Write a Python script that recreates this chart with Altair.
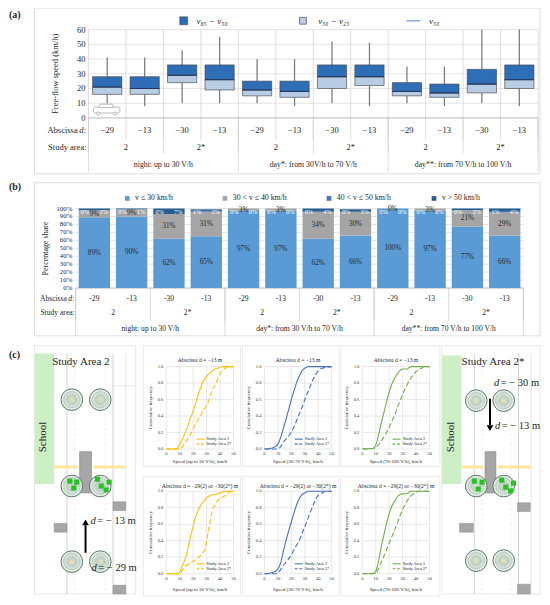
import altair as alt
import pandas as pd

S = 534 / 544.0
def X(r): return round((r - 3) * S, 2)
def Y(r): return round((r - 3) * S, 2)

FONT = "Liberation Serif"
INK = "#262626"
ONE = pd.DataFrame({"k": [0]})

# ---------------- data: panel (a) ----------------
abscissa_a = ["−29", "−13", "−30", "−13", "−29", "−13", "−30", "−13", "−29", "−13", "−30", "−13"]
abscissa_b = ["-29", "-13", "-30", "-13", "-29", "-13", "-30", "-13", "-29", "-13", "-30", "-13"]
study_area = ["2", "2*", "2", "2*", "2", "2*"]
traffic_a = ["night: up to 30 V/h", "day*: from 30V/h to 70 V/h", "day**: from 70 V/h to 100 V/h"]
traffic_b = ["night: up to 30 V/h", "day*: from 30 V/h to 70 V/h", "day**: from 70 V/h to 100 V/h"]
speed_ticks = [0, 10, 20, 30, 40, 50, 60]
v_min = [10, 8, 10, 10, 10, 8, 10, 8, 10, 8, 10, 8]
v25 = [16, 16, 24, 19, 15, 14, 20, 22, 15, 14, 17, 20]
v50 = [21, 20, 29, 26, 19, 18, 28, 28, 18, 17, 23, 26]
v85 = [28, 28, 36, 36, 25, 25, 36, 36, 24, 23, 33, 36]
v_max = [41, 41, 46, 55, 40, 40, 52, 51, 35, 35, 60, 60]

# ---------------- data: panel (b) ----------------
share_cats = ["v ≤ 30 km/h", "30 < v ≤ 40 km/h", "40 < v ≤ 50 km/h", "v > 50 km/h"]
share_colors = ["#5B9BD5", "#A5A5A5", "#4472C4", "#255E91"]
share_le30 = [89, 90, 62, 65, 97, 97, 62, 66, 100, 97, 77, 66]
share_30_40 = [9, 9, 31, 31, 3, 3, 34, 30, 0, 3, 21, 29]
share_40_50 = [0, 0, 0, 1, 0, 0, 0, 0, 0, 0, 0, 1]
share_gt50 = [2, 1, 7, 2, 0, 0, 4, 3, 0, 0, 2, 4]
share_ticks = [0, 10, 20, 30, 40, 50, 60, 70, 80, 90, 100]

# ---------------- data: panel (c) cumulative curves ----------------
cdf_xticks = [0, 10, 20, 30, 40, 50]
cdf_yticks = [0, 0.2, 0.4, 0.6, 0.8, 1.0]
cdf_ylabels = ["0.0", "0.2", "0.4", "0.6", "0.8", "1.0"]

top_y_s_x = [0, 7, 9, 11, 13, 15, 17, 19, 21, 23, 25, 27, 29, 31, 33, 35, 38, 42, 50]
top_y_s_f = [0, 0, 0.03, 0.09, 0.16, 0.24, 0.33, 0.42, 0.51, 0.62, 0.72, 0.81, 0.86, 0.90, 0.93, 0.96, 0.98, 1.0, 1.0]
top_y_d_x = [0, 10, 12, 15, 18, 21, 24, 26, 28, 31, 33, 35, 37, 39, 41, 43, 46, 50]
top_y_d_f = [0, 0, 0.03, 0.10, 0.18, 0.28, 0.37, 0.42, 0.48, 0.56, 0.66, 0.74, 0.80, 0.88, 0.94, 0.97, 1.0, 1.0]

top_b_s_x = [0, 5, 8, 10, 12, 14, 16, 18, 20, 22, 24, 26, 28, 30, 33, 40, 50]
top_b_s_f = [0, 0.01, 0.03, 0.06, 0.14, 0.25, 0.36, 0.48, 0.60, 0.71, 0.81, 0.89, 0.95, 0.98, 1.0, 1.0, 1.0]
top_b_d_x = [0, 10, 12, 14, 16, 18, 20, 22, 24, 26, 28, 30, 32, 34, 36, 38, 40, 43, 46, 50]
top_b_d_f = [0, 0, 0.03, 0.08, 0.12, 0.16, 0.21, 0.27, 0.35, 0.43, 0.51, 0.60, 0.68, 0.76, 0.84, 0.90, 0.95, 0.98, 0.99, 1.0]

top_g_s_x = [0, 8, 10, 12, 14, 16, 18, 20, 22, 24, 26, 28, 30, 33, 35, 37, 40, 50]
top_g_s_f = [0, 0.01, 0.05, 0.17, 0.31, 0.44, 0.57, 0.69, 0.79, 0.86, 0.91, 0.95, 0.97, 0.97, 0.99, 1.0, 1.0, 1.0]
top_g_d_x = [0, 9, 12, 15, 18, 20, 22, 24, 26, 28, 30, 32, 34, 36, 38, 40, 42, 44, 46, 50]
top_g_d_f = [0, 0.01, 0.05, 0.12, 0.20, 0.27, 0.34, 0.41, 0.50, 0.58, 0.66, 0.74, 0.80, 0.86, 0.90, 0.94, 0.96, 0.98, 1.0, 1.0]

bot_y_s_x = [0, 9, 10, 12, 14, 16, 18, 20, 22, 24, 26, 28, 30, 33, 36, 40, 44, 50]
bot_y_s_f = [0, 0, 0.02, 0.10, 0.18, 0.30, 0.45, 0.58, 0.70, 0.78, 0.84, 0.88, 0.92, 0.95, 0.96, 0.98, 1.0, 1.0]
bot_y_d_x = [0, 10, 12, 15, 18, 20, 22, 25, 27, 29, 30, 32, 34, 36, 38, 40, 43, 45, 47, 50]
bot_y_d_f = [0, 0, 0.05, 0.10, 0.13, 0.15, 0.17, 0.21, 0.25, 0.30, 0.40, 0.58, 0.75, 0.83, 0.88, 0.91, 0.94, 0.96, 0.99, 1.0]

bot_b_s_x = [0, 5, 8, 10, 12, 14, 16, 18, 20, 22, 24, 26, 28, 30, 33, 40, 50]
bot_b_s_f = [0, 0.01, 0.03, 0.06, 0.13, 0.27, 0.40, 0.52, 0.63, 0.74, 0.84, 0.91, 0.96, 0.98, 1.0, 1.0, 1.0]
bot_b_d_x = [0, 9, 12, 14, 16, 18, 21, 24, 26, 28, 31, 33, 36, 38, 40, 43, 46, 50]
bot_b_d_f = [0, 0, 0.05, 0.10, 0.14, 0.18, 0.26, 0.35, 0.41, 0.49, 0.61, 0.70, 0.82, 0.90, 0.95, 0.98, 1.0, 1.0]

bot_g_s_x = [0, 9, 10, 12, 14, 16, 18, 20, 22, 24, 26, 28, 30, 32, 34, 36, 40, 50]
bot_g_s_f = [0, 0, 0.03, 0.15, 0.32, 0.47, 0.61, 0.73, 0.82, 0.88, 0.93, 0.96, 0.97, 0.97, 0.98, 1.0, 1.0, 1.0]
bot_g_d_x = [0, 10, 12, 14, 16, 18, 20, 22, 24, 26, 28, 30, 32, 34, 36, 38, 40, 43, 50]
bot_g_d_f = [0, 0.01, 0.06, 0.14, 0.21, 0.29, 0.37, 0.45, 0.53, 0.61, 0.70, 0.78, 0.84, 0.90, 0.94, 0.97, 0.99, 1.0, 1.0]

series_names = ["Study Area 2", "Study Area 2*"]

# ---------------- helpers (decoration, pixel placed) ----------------
def rect(x0, y0, x1, y1, **kw):
    return alt.Chart(ONE).mark_rect(**kw).encode(
        x=alt.value(X(x0)), x2=alt.value(X(x1)), y=alt.value(Y(y0)), y2=alt.value(Y(y1)))

def seg(x0, y0, x1, y1, color="#bfbfbf", width=0.8, **kw):
    return alt.Chart(ONE).mark_rule(color=color, strokeWidth=width, **kw).encode(
        x=alt.value(X(x0)), x2=alt.value(X(x1)), y=alt.value(Y(y0)), y2=alt.value(Y(y1)))

def txt(s, x, y, size=9, align="left", color=INK, **kw):
    return alt.Chart(ONE).mark_text(text=s, font=FONT, fontSize=size, align=align,
                                    baseline="middle", color=color, **kw).encode(
        x=alt.value(X(x)), y=alt.value(Y(y)))

def dot(x, y, kind="circle", **kw):
    if kind == "circle":
        m = alt.Chart(ONE).mark_circle(**kw)
    elif kind == "square":
        m = alt.Chart(ONE).mark_square(**kw)
    else:
        m = alt.Chart(ONE).mark_point(**kw)
    return m.encode(x=alt.value(X(x)), y=alt.value(Y(y)))

layers = []

# ======================= PANEL (a) =======================
n = len(v50)
idx = list(range(n))
bounds_all = [k - 0.5 for k in range(n + 1)]
bounds_area = [2 * k - 0.5 for k in range(n // 2 + 1)]
bounds_traffic = [4 * k - 0.5 for k in range(n // 4 + 1)]
area_pos = [2 * k + 0.5 for k in range(n // 2)]
traffic_pos = [4 * k + 1.5 for k in range(n // 4)]

layers.append(rect(30, 3, 545, 172, fill="white", stroke="#d4d4d4", strokeWidth=0.8))
layers.append(txt("(a)", 4, 10, size=10, fontWeight="bold"))

xA = alt.Scale(domain=[-0.5, 11.5], range=[X(85), X(543)], nice=False, zero=False)
yA = alt.Scale(domain=[0, 60], range=[Y(115), Y(25)], nice=False)

dfA = pd.DataFrame({"i": idx, "lo": v_min, "q25": v25, "med": v50, "q85": v85, "hi": v_max, "ab": abscissa_a})
baseA = alt.Chart(dfA).transform_calculate(x0="datum.i - 0.39", x1="datum.i + 0.39")

def vr(bounds, scale, y0, y1, color="#d0d0d0", width=0.7):
    return alt.Chart(pd.DataFrame({"b": bounds})).mark_rule(color=color, strokeWidth=width).encode(
        x=alt.X("b:Q", scale=scale, axis=None), y=alt.value(Y(y0)), y2=alt.value(Y(y1)))

gridA = alt.Chart(pd.DataFrame({"v": speed_ticks[1:]})).mark_rule(color="#d9d9d9", strokeWidth=0.7).encode(
    y=alt.Y("v:Q", scale=yA, axis=None), x=alt.value(X(85)), x2=alt.value(X(543)))
baseLineA = alt.Chart(pd.DataFrame({"v": [0]})).mark_rule(color="#a6a6a6", strokeWidth=0.8).encode(
    y=alt.Y("v:Q", scale=yA, axis=None), x=alt.value(X(85)), x2=alt.value(X(543)))
ytickA = alt.Chart(pd.DataFrame({"v": speed_ticks})).mark_text(
    font=FONT, fontSize=8.5, align="right", baseline="middle", color=INK).encode(
    y=alt.Y("v:Q", scale=yA, axis=None), x=alt.value(X(82)), text="v:Q")

wlo = baseA.mark_rule(color="#7f7f7f", strokeWidth=1.3).encode(
    x=alt.X("i:Q", scale=xA, axis=None), y=alt.Y("lo:Q", scale=yA, axis=None), y2="q25:Q")
whi = baseA.mark_rule(color="#7f7f7f", strokeWidth=1.3).encode(
    x=alt.X("i:Q", scale=xA, axis=None), y=alt.Y("q85:Q", scale=yA, axis=None), y2="hi:Q")
blo = baseA.mark_rect(fill="#B8CCE4", stroke="#3c3c3c", strokeWidth=0.6).encode(
    x=alt.X("x0:Q", scale=xA, axis=None), x2="x1:Q", y=alt.Y("q25:Q", scale=yA, axis=None), y2="med:Q")
bhi = baseA.mark_rect(fill="#2E6EB6", stroke="#3c3c3c", strokeWidth=0.6).encode(
    x=alt.X("x0:Q", scale=xA, axis=None), x2="x1:Q", y=alt.Y("med:Q", scale=yA, axis=None), y2="q85:Q")
bmed = baseA.mark_rule(color="#1F3864", strokeWidth=1).encode(
    x=alt.X("x0:Q", scale=xA, axis=None), x2="x1:Q", y=alt.Y("med:Q", scale=yA, axis=None))
labAb = alt.Chart(dfA).mark_text(font=FONT, fontSize=8.5, color=INK, baseline="middle").encode(
    x=alt.X("i:Q", scale=xA, axis=None), y=alt.value(Y(127)), text="ab:N")
labArea = alt.Chart(pd.DataFrame({"p": area_pos, "t": study_area})).mark_text(
    font=FONT, fontSize=8.5, color=INK, baseline="middle").encode(
    x=alt.X("p:Q", scale=xA, axis=None), y=alt.value(Y(145)), text="t:N")
labTraf = alt.Chart(pd.DataFrame({"p": traffic_pos, "t": traffic_a})).mark_text(
    font=FONT, fontSize=7.8, color=INK, baseline="middle").encode(
    x=alt.X("p:Q", scale=xA, axis=None), y=alt.value(Y(163)), text="t:N")

panelA = alt.layer(
    gridA,
    vr(bounds_all, xA, 25, 137),
    vr(bounds_area, xA, 115, 151),
    vr(bounds_traffic, xA, 115, 170),
    baseLineA, ytickA, wlo, whi, blo, bhi, bmed, labAb, labArea, labTraf,
)
layers.append(panelA)

# legend (a)
layers += [
    rect(178, 12, 186, 20, fill="#2E6EB6", stroke="#3c3c3c", strokeWidth=0.6),
    txt("v₈₅ − v₅₀", 195, 16.5, size=9, fontStyle="italic"),
    rect(300, 12.5, 307, 19.5, fill="#B8CCE4", stroke="#3c3c3c", strokeWidth=0.6),
    txt("v₅₀ − v₂₅", 319, 16.5, size=9, fontStyle="italic"),
    seg(409, 16, 423, 16, color="#8EA9DB", width=1.5),
    txt("v₅₀", 432, 16.5, size=9, fontStyle="italic"),
    txt("Free-flow speed (km/h)", 51, 70, size=8.5, align="center", angle=270),
    txt("Abscissa", 74, 127, size=8.5, align="right"),
    txt("d:", 75.5, 127, size=8.5, fontStyle="italic"),
    txt("Study area:", 83, 145, size=8.5, align="right"),
]
# small car outline
layers += [
    rect(90, 104, 117, 110, fill="white", stroke="#8c8c8c", strokeWidth=0.6, cornerRadius=2),
    rect(96, 101, 110, 104.5, fill="white", stroke="#8c8c8c", strokeWidth=0.6, cornerRadius=1.5),
    dot(95, 110.5, size=10, color="white", stroke="#8c8c8c", strokeWidth=0.6, opacity=1),
    dot(112, 110.5, size=10, color="white", stroke="#8c8c8c", strokeWidth=0.6, opacity=1),
]

# ======================= PANEL (b) =======================
layers.append(rect(30, 181, 545, 337, fill="white", stroke="#d4d4d4", strokeWidth=0.8))
layers.append(txt("(b)", 4, 185, size=10, fontWeight="bold"))

xB = alt.Scale(domain=[-0.5, 11.5], range=[X(72), X(528)], nice=False, zero=False)
yB = alt.Scale(domain=[0, 100], range=[Y(288.3), Y(207.3)], nice=False)

rows = []
for i in idx:
    for c, arr in enumerate([share_le30, share_30_40, share_40_50, share_gt50]):
        rows.append({"i": i, "c": c, "cat": share_cats[c], "v": arr[i]})
dfB = pd.DataFrame(rows)
dfBab = pd.DataFrame({"i": idx, "ab": abscissa_b})

baseB = alt.Chart(dfB).transform_stack(
    stack="v", groupby=["i"], as_=["s0", "s1"], sort=[alt.SortField("c", order="ascending")]
).transform_calculate(
    x0="datum.i - 0.42", x1="datum.i + 0.42", mid="(datum.s0 + datum.s1) / 2",
    xl="datum.i - 0.25", xr="datum.i + 0.25", lab="datum.v + '%'")

gridB = alt.Chart(pd.DataFrame({"v": share_ticks[1:]})).mark_rule(color="#d9d9d9", strokeWidth=0.7).encode(
    y=alt.Y("v:Q", scale=yB, axis=None), x=alt.value(X(72)), x2=alt.value(X(528)))
baseLineB = alt.Chart(pd.DataFrame({"v": [0]})).mark_rule(color="#a6a6a6", strokeWidth=0.8).encode(
    y=alt.Y("v:Q", scale=yB, axis=None), x=alt.value(X(72)), x2=alt.value(X(528)))
ytickB = alt.Chart(pd.DataFrame({"v": share_ticks})).transform_calculate(t="datum.v + '%'").mark_text(
    font=FONT, fontSize=6.8, align="right", baseline="middle", color=INK).encode(
    y=alt.Y("v:Q", scale=yB, axis=None), x=alt.value(X(68.5)), text="t:N")
barsB = baseB.mark_rect().encode(
    x=alt.X("x0:Q", scale=xB, axis=None), x2="x1:Q",
    y=alt.Y("s0:Q", scale=yB, axis=None), y2="s1:Q",
    color=alt.Color("cat:N", scale=alt.Scale(domain=share_cats, range=share_colors), legend=None))
labMain = baseB.transform_filter("datum.c <= 1").mark_text(
    font=FONT, fontSize=7.2, color=INK, baseline="middle").encode(
    x=alt.X("i:Q", scale=xB, axis=None), y=alt.Y("mid:Q", scale=yB, axis=None), text="lab:N")
labL = baseB.transform_filter("datum.c == 2").mark_text(
    font=FONT, fontSize=6.3, color="white", baseline="middle").encode(
    x=alt.X("xl:Q", scale=xB, axis=None), y=alt.value(Y(210.5)), text="lab:N")
labR = baseB.transform_filter("datum.c == 3").mark_text(
    font=FONT, fontSize=6.3, color="white", baseline="middle").encode(
    x=alt.X("xr:Q", scale=xB, axis=None), y=alt.value(Y(210.5)), text="lab:N")
labAbB = alt.Chart(dfBab).mark_text(font=FONT, fontSize=7.6, color=INK, baseline="middle").encode(
    x=alt.X("i:Q", scale=xB, axis=None), y=alt.value(Y(299)), text="ab:N")
labAreaB = alt.Chart(pd.DataFrame({"p": area_pos, "t": study_area})).mark_text(
    font=FONT, fontSize=7.6, color=INK, baseline="middle").encode(
    x=alt.X("p:Q", scale=xB, axis=None), y=alt.value(Y(314)), text="t:N")
labTrafB = alt.Chart(pd.DataFrame({"p": traffic_pos, "t": traffic_b})).mark_text(
    font=FONT, fontSize=7.6, color=INK, baseline="middle").encode(
    x=alt.X("p:Q", scale=xB, axis=None), y=alt.value(Y(330)), text="t:N")

panelB = alt.layer(
    gridB, baseLineB, barsB,
    vr(bounds_area, xB, 288.3, 322, color="#c8c8c8"),
    vr(bounds_traffic, xB, 288.3, 337, color="#c8c8c8"),
    ytickB, labMain, labL, labR, labAbB, labAreaB, labTrafB,
)
layers.append(panelB)

legB_x = [124.5, 224, 330, 437]
for k in range(4):
    layers.append(dot(legB_x[k], 197, kind="square", size=22, color=share_colors[k], opacity=1))
    layers.append(txt(share_cats[k], legB_x[k] + 8, 197, size=7.8))
layers += [
    txt("Percentage share", 42, 248, size=8, align="center", angle=270),
    txt("Abscissa", 63, 299, size=7.6, align="right"),
    txt("d:", 64.5, 299, size=7.6, fontStyle="italic"),
    txt("Study area:", 71, 314, size=7.6, align="right"),
]

# ======================= PANEL (c) =======================
layers.append(txt("(c)", 4, 356, size=10, fontWeight="bold"))

def tree(x, y):
    return [
        dot(x, y, size=470, color="#E2EAE3", stroke="#5C7A6A", strokeWidth=1.0, opacity=1),
        dot(x, y, size=260, color="#D3DFD5", stroke="#6F8F7F", strokeWidth=0.7, strokeDash=[1, 1.2], opacity=1),
        dot(x, y, size=90, color="#C7D5CA", stroke="#7D9A8B", strokeWidth=0.6, strokeDash=[1, 1], opacity=1),
        dot(x, y, size=14, color="#E8E2B0", opacity=1),
    ]

def study_map(x0, x1, label, green_top, road_l, road_r, table_l, table_r, gray_boxes):
    out = [rect(x0, 347, x1, 600, fill="white", stroke="#e2e2e2", strokeWidth=0.8)]
    out.append(rect(x0, green_top, x0 + 20, 488, fill="#CDEFC6"))
    out.append(txt("School", x0 + 9, 440, size=11, align="center", angle=270, color="#1f1f1f"))
    out += [
        seg(road_l, 355, road_l, 600, color="#c6c6c6", width=0.8),
        seg(road_r, 355, road_r, 600, color="#c6c6c6", width=0.8),
        seg(road_l + 8, 360, road_l + 8, 600, color="#dcdcdc", width=0.7, strokeDash=[2, 3]),
        seg(road_r - 8, 360, road_r - 8, 600, color="#dcdcdc", width=0.7, strokeDash=[2, 3]),
        seg(road_r + 13, 355, road_r + 13, 600, color="#dadada", width=0.7),
        seg(road_r, 388, x1, 388, color="#dadada", width=0.7),
    ]
    out.append(seg(x0 + 20, 470.5, table_l - 2, 470.5, color="#FFE699", width=3))
    out.append(seg(table_r + 2, 470.5, road_r + 13, 470.5, color="#FFE699", width=3))
    out.append(rect(table_l, 455, table_r, 497, fill="#A6A6A6", stroke="#7f7f7f", strokeWidth=0.6))
    for (a, b, c, d) in gray_boxes:
        out.append(rect(a, b, c, d, fill="#A6A6A6", stroke="#8c8c8c", strokeWidth=0.5))
    return out

# left map (Study Area 2)
layers += study_map(30, 133, "Study Area 2", 355, 63, 110, 76, 88,
                    [(110, 506, 123, 515), (50, 528, 63, 537), (110, 591, 123, 600)])
for (tx, ty) in [(68, 402), (97, 402), (68, 490), (97, 490), (68, 567), (97, 567)]:
    layers += tree(tx, ty)
for (gx, gy) in [(66, 485), (70, 492), (73, 486), (94, 483), (98, 490), (103, 494), (106, 486)]:
    layers.append(dot(gx, gy, kind="square", size=26, color="#22C322", opacity=1))
layers += [
    txt("Study Area 2", 48, 364, size=11),
    seg(82, 558, 82, 530, color="black", width=2),
    dot(82, 527, kind="point", shape="triangle-up", filled=True, size=45, color="black", opacity=1),
    txt("d", 87, 526, size=10.5, fontStyle="italic"),
    txt("= − 13 m", 94, 526, size=10.5),
    txt("d", 88, 573, size=10.5, fontStyle="italic"),
    txt("= − 29 m", 95, 573, size=10.5),
]

# right map (Study Area 2*)
layers += study_map(445, 545, "Study Area 2*", 357, 478, 523, 489, 500,
                    [(522, 507, 535, 516), (463, 528, 477, 537), (522, 590, 535, 600)])
for (tx, ty) in [(480, 403), (508, 403), (480, 490), (508, 490), (480, 566), (508, 566)]:
    layers += tree(tx, ty)
for (gx, gy) in [(478, 485), (482, 493), (486, 486), (506, 484), (510, 491), (515, 495), (518, 487)]:
    layers.append(dot(gx, gy, kind="square", size=26, color="#22C322", opacity=1))
layers += [
    txt("Study Area 2*", 465, 364, size=11),
    txt("d", 498, 385, size=10.5, fontStyle="italic"),
    txt("= − 30 m", 505, 385, size=10.5),
    seg(494, 401, 494, 428, color="black", width=2),
    dot(494, 431, kind="point", shape="triangle-down", filled=True, size=45, color="black", opacity=1),
    txt("d", 499, 429, size=10.5, fontStyle="italic"),
    txt("= − 13 m", 506, 429, size=10.5),
]

# CDF charts
col_L = [164.3, 264.3, 364.0]
col_fx = [(141, 240), (242, 340), (342, 443)]
row_T = [368.3, 495.3]
row_fy = [(347, 470), (480, 602)]
row_title_y = [362, 490]
row_xt_y = [464, 595]
PW, PH = 68.4, 84.0

def cdf_panel(col, row, sx, sf, dx, df_, color, title, xtitle):
    L = col_L[col]; R = L + PW
    T = row_T[row]; B = T + PH
    xs = alt.Scale(domain=[0, 50], range=[X(L), X(R)], nice=False, zero=False)
    ys = alt.Scale(domain=[0, 1], range=[Y(B), Y(T)], nice=False)
    out = [rect(col_fx[col][0], row_fy[row][0], col_fx[col][1], row_fy[row][1],
                fill="white", stroke="#e3e3e3", strokeWidth=0.8)]
    data = pd.DataFrame({"s": sx + dx, "f": sf + df_,
                         "series": [series_names[0]] * len(sx) + [series_names[1]] * len(dx)})
    gx = alt.Chart(pd.DataFrame({"v": cdf_xticks})).mark_rule(color="#d9d9d9", strokeWidth=0.6).encode(
        x=alt.X("v:Q", scale=xs, axis=None), y=alt.value(Y(T)), y2=alt.value(Y(B)))
    gy = alt.Chart(pd.DataFrame({"v": cdf_yticks})).mark_rule(color="#d9d9d9", strokeWidth=0.6).encode(
        y=alt.Y("v:Q", scale=ys, axis=None), x=alt.value(X(L)), x2=alt.value(X(R)))
    lines = alt.Chart(data).mark_line(color=color, strokeWidth=1.1, interpolate="monotone").encode(
        x=alt.X("s:Q", scale=xs, axis=None), y=alt.Y("f:Q", scale=ys, axis=None),
        strokeDash=alt.StrokeDash("series:N", scale=alt.Scale(domain=series_names, range=[[1, 0], [5, 2.5]]),
                                  legend=None))
    tx = alt.Chart(pd.DataFrame({"v": cdf_xticks})).mark_text(
        font=FONT, fontSize=4.6, color="#404040", baseline="middle").encode(
        x=alt.X("v:Q", scale=xs, axis=None), y=alt.value(Y(B + 5)), text="v:Q")
    ty = alt.Chart(pd.DataFrame({"v": cdf_yticks, "t": cdf_ylabels})).mark_text(
        font=FONT, fontSize=4.6, color="#404040", baseline="middle", align="right").encode(
        y=alt.Y("v:Q", scale=ys, axis=None), x=alt.value(X(L - 3)), text="t:N")
    out.append(alt.layer(gx, gy, lines, tx, ty))
    lx0, lx1, lt = L + 0.45 * PW, L + 0.57 * PW, L + 0.60 * PW
    out += [
        seg(lx0, B - 0.12 * PH, lx1, B - 0.12 * PH, color=color, width=1.1),
        seg(lx0, B - 0.06 * PH, lx1, B - 0.06 * PH, color=color, width=1.1, strokeDash=[3, 1.5]),
        txt(series_names[0], lt, B - 0.12 * PH, size=4.3),
        txt(series_names[1], lt, B - 0.06 * PH, size=4.3),
        txt(title, L + PW / 2, row_title_y[row], size=5.6, align="center"),
        txt(xtitle, L + PW / 2, row_xt_y[row], size=5.0, align="center"),
        txt("Cumulative frequency", L - 16, T + PH / 2, size=4.8, align="center", angle=270),
    ]
    return out

yellow, blue, green = "#FFC000", "#4472C4", "#70AD47"
t_top = "Abscissa d = −13 m"
t_bot = "Abscissa d = −29(2) or −30(2*) m"
xt = ["Speed (up to 30 V/h), km/h", "Speed (30-70 V/h), km/h", "Speed (70-100 V/h), km/h"]

layers += cdf_panel(0, 0, top_y_s_x, top_y_s_f, top_y_d_x, top_y_d_f, yellow, t_top, xt[0])
layers += cdf_panel(1, 0, top_b_s_x, top_b_s_f, top_b_d_x, top_b_d_f, blue, t_top, xt[1])
layers += cdf_panel(2, 0, top_g_s_x, top_g_s_f, top_g_d_x, top_g_d_f, green, t_top, xt[2])
layers += cdf_panel(0, 1, bot_y_s_x, bot_y_s_f, bot_y_d_x, bot_y_d_f, yellow, t_bot, xt[0])
layers += cdf_panel(1, 1, bot_b_s_x, bot_b_s_f, bot_b_d_x, bot_b_d_f, blue, t_bot, xt[1])
layers += cdf_panel(2, 1, bot_g_s_x, bot_g_s_f, bot_g_d_x, bot_g_d_f, green, t_bot, xt[2])

chart = alt.layer(*layers).resolve_scale(
    x="independent", y="independent", color="independent", strokeDash="independent"
).properties(
    width=534, height=589, padding=0, autosize=alt.AutoSizeParams(type="none")
).configure_view(stroke=None)

chart.save("out.html", embed_options={"renderer": "svg", "actions": False})
